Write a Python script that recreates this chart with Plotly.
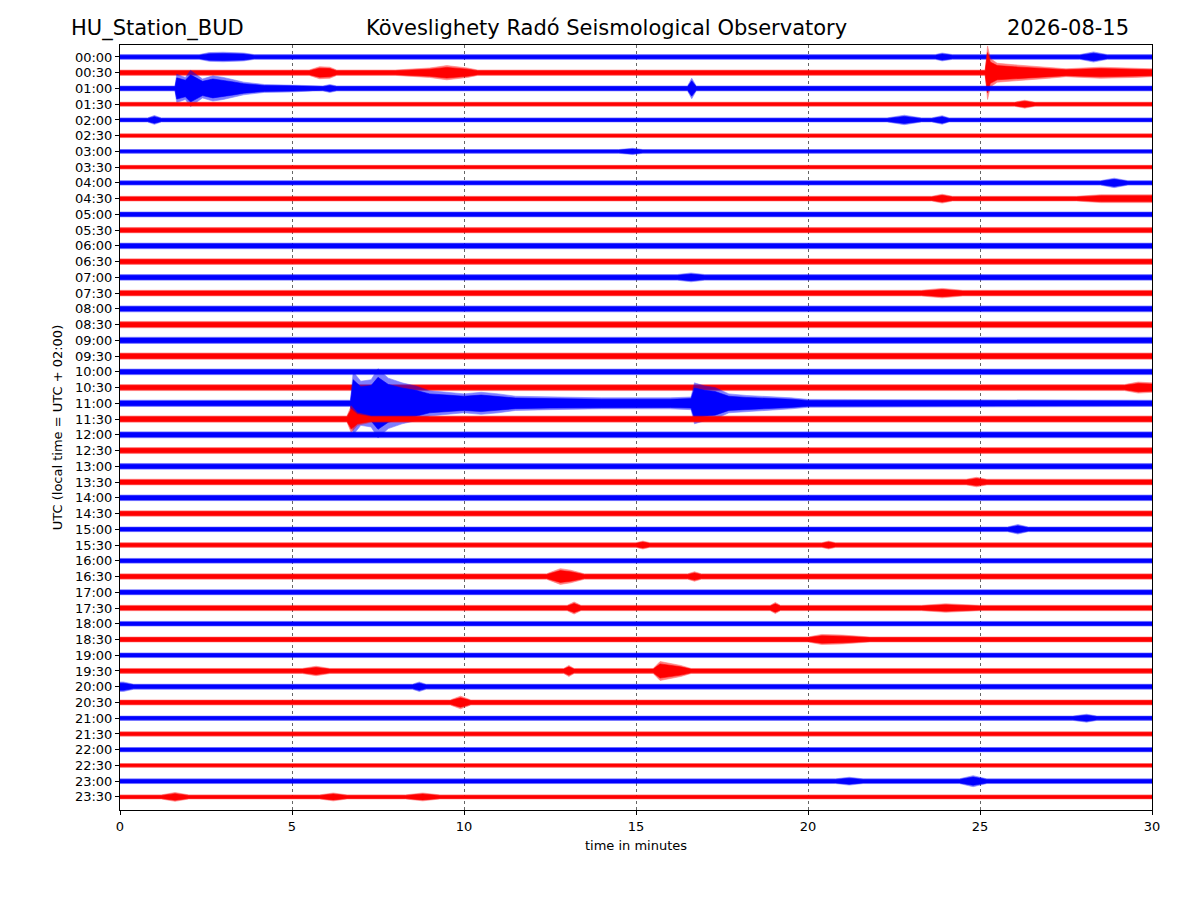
import plotly.graph_objects as go

# helicorder rows, 30 minutes each
ROW_LABELS = [f"{h:02d}:{m:02d}" for h in range(24) for m in (0, 30)]

# background noise half-width per row (in units of row spacing)
NOISE = [0.15, 0.17, 0.16, 0.13, 0.13, 0.12, 0.12, 0.12, 0.14, 0.15,
         0.16, 0.17, 0.18, 0.18, 0.18, 0.18, 0.19, 0.20, 0.20, 0.20,
         0.18, 0.19, 0.20, 0.20, 0.19, 0.19, 0.18, 0.18, 0.18, 0.17,
         0.15, 0.15, 0.15, 0.17, 0.16, 0.17, 0.15, 0.16, 0.15, 0.16,
         0.16, 0.16, 0.14, 0.14, 0.14, 0.12, 0.15, 0.13]

# bursts / events: row index, times (min) and envelope half-widths
BURST_ROW = [0, 0, 0,
             1, 1, 1,
             2, 2, 2,
             3, 4, 4, 4, 6, 8, 9, 9,
             14, 15, 21,
             22, 23,
             27, 30, 31, 31,
             33, 33, 35, 35, 35, 37,
             39, 39, 39, 40, 40, 41, 42,
             46, 46, 47, 47, 47]
BURST_T = [
    [2.3, 2.6, 3.0, 3.6, 3.9], [23.7, 23.9, 24.2], [27.9, 28.3, 28.7],
    [5.5, 5.8, 6.1, 6.3], [8.0, 9.0, 9.5, 10.1, 10.4],
    [25.15, 25.22, 25.3, 25.5, 26.0, 27.0, 27.5, 28.5, 29.5, 30.0],
    [1.6, 1.65, 1.9, 2.05, 2.4, 2.7, 3.0, 3.3, 3.6, 4.2, 5.0, 5.6],
    [5.9, 6.1, 6.3], [16.5, 16.62, 16.75],
    [26.0, 26.3, 26.6], [0.8, 1.0, 1.2], [22.3, 22.8, 23.3], [23.6, 23.9, 24.1],
    [14.5, 14.9, 15.2], [28.5, 28.9, 29.3], [23.6, 23.9, 24.2], [27.8, 28.5, 30.0],
    [16.2, 16.6, 17.0], [23.3, 23.9, 24.5], [29.2, 29.6, 30.0],
    [6.7, 6.78, 7.0, 7.3, 7.5, 7.8, 8.2, 8.6, 9.0, 9.5, 10.0, 10.5, 11.0, 11.5,
     12.5, 14.0, 16.0, 16.6, 16.7, 17.0, 17.3, 17.7, 18.2, 18.8, 19.5, 20.0],
    [6.6, 6.72, 6.9, 7.3],
    [24.6, 24.9, 25.2], [25.8, 26.1, 26.4], [15.0, 15.2, 15.4], [20.4, 20.6, 20.8],
    [12.4, 12.8, 13.1, 13.5], [16.5, 16.7, 16.9],
    [13.0, 13.2, 13.4], [18.9, 19.05, 19.2], [23.3, 24.0, 25.0],
    [20.0, 20.4, 21.0, 21.8],
    [5.3, 5.7, 6.1], [12.9, 13.05, 13.2], [15.5, 15.7, 15.95, 16.3, 16.6],
    [0.0, 0.1, 0.4], [8.5, 8.7, 8.9], [9.6, 9.9, 10.2], [27.7, 28.1, 28.4],
    [20.8, 21.2, 21.6], [24.4, 24.8, 25.2],
    [1.2, 1.6, 2.0], [5.8, 6.2, 6.6], [8.3, 8.8, 9.3],
]
BURST_AMP = [
    [0.15, 0.28, 0.30, 0.25, 0.15], [0.15, 0.25, 0.15], [0.15, 0.32, 0.15],
    [0.17, 0.38, 0.35, 0.17], [0.17, 0.30, 0.45, 0.30, 0.17],
    [0.17, 1.70, 0.90, 0.60, 0.50, 0.35, 0.25, 0.35, 0.30, 0.25],
    [0.16, 0.90, 0.70, 1.15, 0.60, 0.80, 0.70, 0.55, 0.40, 0.25, 0.22, 0.16],
    [0.16, 0.25, 0.16], [0.16, 0.65, 0.16],
    [0.13, 0.25, 0.13], [0.13, 0.28, 0.13], [0.13, 0.30, 0.13], [0.13, 0.27, 0.13],
    [0.12, 0.20, 0.12], [0.14, 0.30, 0.14], [0.15, 0.28, 0.15], [0.15, 0.25, 0.25],
    [0.18, 0.28, 0.18], [0.18, 0.30, 0.18], [0.19, 0.35, 0.30],
    [0.20, 2.00, 1.40, 1.50, 2.20, 1.60, 1.30, 1.10, 0.80, 0.70, 0.60, 0.70, 0.60, 0.45,
     0.40, 0.35, 0.35, 0.40, 1.30, 1.10, 1.00, 0.60, 0.50, 0.45, 0.35, 0.25],
    [0.20, 0.85, 0.40, 0.20],
    [0.18, 0.30, 0.18], [0.15, 0.30, 0.15], [0.15, 0.25, 0.15], [0.15, 0.25, 0.15],
    [0.17, 0.50, 0.40, 0.17], [0.17, 0.30, 0.17],
    [0.17, 0.38, 0.17], [0.17, 0.35, 0.17], [0.17, 0.27, 0.17],
    [0.16, 0.32, 0.28, 0.16],
    [0.16, 0.30, 0.16], [0.16, 0.35, 0.16], [0.16, 0.60, 0.50, 0.35, 0.16],
    [0.30, 0.30, 0.16], [0.16, 0.30, 0.16], [0.16, 0.40, 0.16], [0.14, 0.25, 0.14],
    [0.15, 0.25, 0.15], [0.15, 0.35, 0.15],
    [0.13, 0.28, 0.13], [0.13, 0.25, 0.13], [0.13, 0.25, 0.13],
]

fig = go.Figure()

for i, label in enumerate(ROW_LABELS):
    env = {0.0: NOISE[i], 30.0: NOISE[i]}
    for r, ts, amps in zip(BURST_ROW, BURST_T, BURST_AMP):
        if r == i:
            env.update(zip(ts, amps))
    ts = sorted(env)
    amps = [env[t] for t in ts]
    color = "blue" if i % 2 == 0 else "red"
    # faint outer envelope + dense core, to mimic the look of the noisy trace
    for scale, opacity in [(1.0, 0.5), (0.75, 1.0)]:
        fig.add_trace(go.Scatter(
            x=ts + ts[::-1],
            y=[i - scale * a for a in amps] + [i + scale * a for a in amps[::-1]],
            mode="lines", fill="toself", fillcolor=color, opacity=opacity,
            line=dict(color=color, width=0.6),
            hoverinfo="skip", showlegend=False
        ))

font = "DejaVu Sans, Arial, sans-serif"
axis_common = dict(showline=True, linecolor="black", linewidth=1, mirror=True,
                   ticks="outside", ticklen=4, tickcolor="black", zeroline=False,
                   tickfont=dict(size=13, color="black"))

fig.update_xaxes(range=[0, 30], tickvals=[0, 5, 10, 15, 20, 25, 30],
                 showgrid=True, gridcolor="#666666", gridwidth=0.5, griddash="dot",
                 title=dict(text="time in minutes", font=dict(size=13, color="black"), standoff=8),
                 **axis_common)
fig.update_yaxes(range=[47.83, -0.76], tickvals=list(range(48)), ticktext=ROW_LABELS,
                 showgrid=False,
                 title=dict(text="UTC (local time = UTC + 02:00)", font=dict(size=13, color="black"),
                            standoff=9),
                 **axis_common)

for text, x, anchor in [("HU_Station_BUD", -0.0494, "left"),
                        ("Köveslighety Radó Seismological Observatory", 0.471, "center"),
                        ("2026-08-15", 0.9796, "right")]:
    fig.add_annotation(text=text, x=x, y=1.022, xref="paper", yref="paper",
                       xanchor=anchor, yanchor="middle", showarrow=False,
                       font=dict(size=21, color="black", family=font))

# page body has an 8px margin, so the figure is shrunk to keep the axes where they belong
fig.update_layout(
    width=1192, height=892,
    margin=dict(l=112, r=48, t=37, b=90),
    plot_bgcolor="white", paper_bgcolor="white",
    font=dict(family=font, color="black"),
)

fig.write_html("out.html")
